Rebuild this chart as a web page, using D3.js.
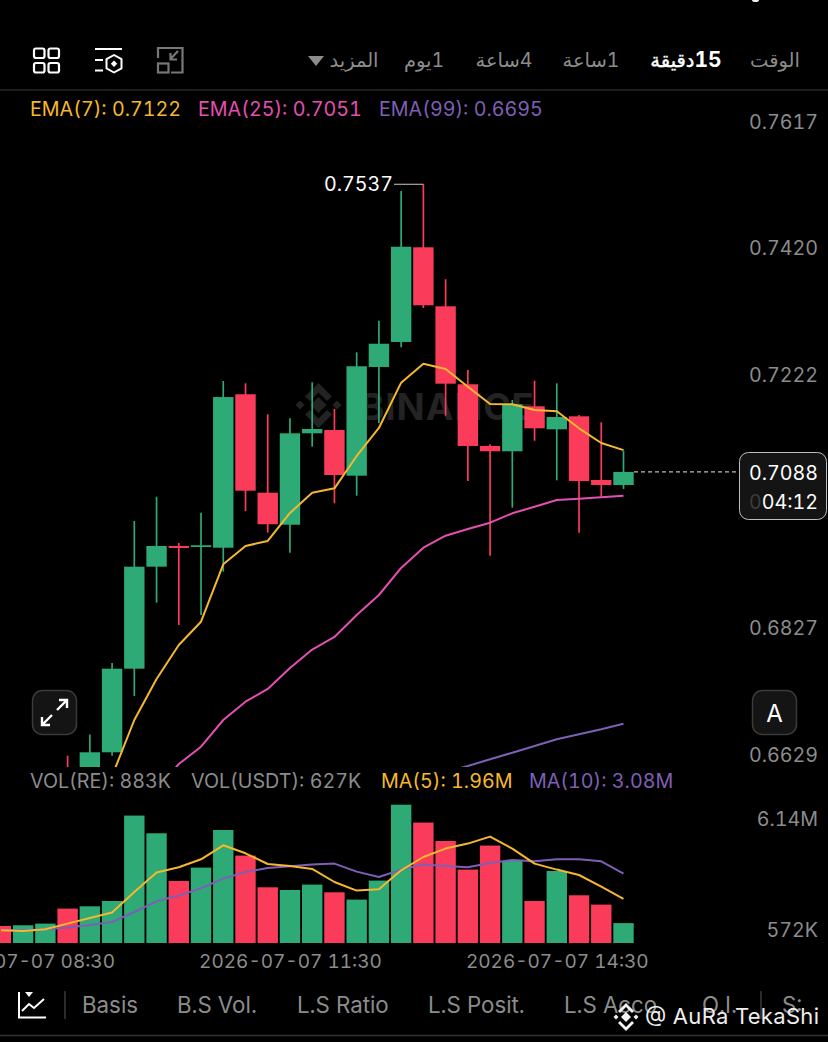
<!DOCTYPE html>
<html>
<head>
<meta charset="utf-8">
<script src="https://cdn.jsdelivr.net/npm/d3@7"></script>
<style>
html, body { margin: 0; padding: 0; background: #000; }
svg { display: block; }
text { font-family: Inter, Roboto, "DejaVu Sans", sans-serif; font-variant-numeric: tabular-nums; }
</style>
</head>
<body>
<div id="chart"></div>
<script>
// 15 minute slots, first one is the cut off volume bar at the left edge
var startTime = new Date(2026, 6, 7, 8, 15);
var slotCount = 29;
var times = d3.range(slotCount).map(function(i){ return d3.timeMinute.offset(startTime, i * 15); });

// candles, the first three slots are below the pane so only the volume is visible
var opens  = [0.66228,0.66150,0.66504,0.67809,0.69401,0.69724,0.69708,0.69697,0.72092,0.70556,0.70056,0.71483,0.71534,0.70821,0.72518,0.72908,0.74386,0.73465,0.72248,0.71285,0.71202,0.71904,0.71545,0.71748,0.70754,0.70676];
var closes = [0.66072,0.66504,0.67809,0.69401,0.69724,0.69693,0.69735,0.72049,0.70587,0.70063,0.71483,0.71550,0.70832,0.72529,0.72881,0.74395,0.73481,0.72257,0.71285,0.71202,0.71936,0.71561,0.71737,0.70738,0.70676,0.7088];
var highs  = [0.66451,0.66782,0.67898,0.70114,0.70493,0.69771,0.70244,0.72299,0.72263,0.71780,0.71717,0.72279,0.71862,0.72747,0.73240,0.75265,0.7537,0.73887,0.72471,0.71311,0.72003,0.72304,0.72263,0.71769,0.71655,0.71211];
var lows   = [0.65994,0.66072,0.66451,0.67383,0.68839,0.68491,0.68647,0.69323,0.70270,0.69932,0.69619,0.71274,0.70390,0.70509,0.71639,0.72825,0.73439,0.71758,0.70738,0.69573,0.70322,0.71367,0.70749,0.69932,0.70493,0.70614];

// moving averages, aligned to the last slots
var ema7  = [0.65759,0.66134,0.67008,0.67648,0.68179,0.68542,0.69438,0.69724,0.69802,0.70239,0.70554,0.70624,0.71129,0.71566,0.72273,0.72569,0.72487,0.72210,0.71940,0.71936,0.71847,0.71826,0.71561,0.71332,0.7122];
var ema25 = [0.65916,0.66321,0.66591,0.67008,0.67294,0.67492,0.67820,0.68108,0.68304,0.68647,0.68959,0.69381,0.69697,0.69885,0.69989,0.70088,0.70234,0.70337,0.70442,0.70462,0.70484,0.7051];
var ema99 = [0.66196,0.66290,0.66395,0.66498,0.66602,0.66707,0.66785,0.66863,0.6695];

// volume in millions
var volumes = [0.755,0.786,0.861,1.527,1.629,1.865,5.657,4.871,2.753,3.348,5.017,3.881,2.473,2.353,2.593,2.251,1.927,2.771,6.14,5.346,4.529,3.259,4.325,3.641,1.865,3.197,2.118,1.705,0.883];
var volFirstSides = ["down","up","up"];
var ma5  = [0.564,0.533,0.608,0.861,1.11,1.35,2.264,3.126,3.361,3.716,4.338,3.983,3.508,3.419,3.286,2.708,2.327,2.384,3.228,3.818,4.191,4.413,4.724,4.191,3.525,3.259,3.019,2.504,1.96];
var ma10 = [0.564,0.564,0.608,0.684,0.799,0.932,1.376,1.851,2.105,2.429,2.859,3.152,3.33,3.405,3.481,3.525,3.17,2.93,3.259,3.481,3.419,3.361,3.552,3.685,3.627,3.716,3.716,3.627,3.08];

var priceTicks = [0.7617,0.7420,0.7222,0.6827,0.6629];
var volTicks = [6.14,0.572];
var volTickLabels = ["6.14M","572K"];
var timeTicks = [new Date(2026,6,7,8,30), new Date(2026,6,7,11,30), new Date(2026,6,7,14,30)];
var intervalLabels = ["الوقت","دقيقة","1ساعة","4ساعة","1يوم","المزيد"];
var intervalX = [775,686,591,504,424,354];
var bottomTabs = ["Basis","B.S Vol.","L.S Ratio","L.S Posit.","L.S Acco","O.I.","S:"];
var bottomTabX = [82,177,297,428,564,702,782];

var green = "#2DAA76", red = "#FA3C5A", grey = "#8C8C8C";
var yellow = "#F5B82E", pink = "#E44FB2", purple = "#7F5FB5";
var labelSize = "19.7px";

var width = 828, height = 1042;

var svg = d3.select("#chart").append("svg")
    .attr("width", width)
    .attr("height", height);

svg.append("rect").attr("width", width).attr("height", height).attr("fill", "#000");

var x = d3.scaleTime()
    .domain([times[0], times[slotCount - 1]])
    .range([0.9, 623.5]);

var y = d3.scaleLinear()
    .domain([0.7617, 0.6629])
    .range([133, 766]);

var yVol = d3.scaleLinear()
    .domain([0, 6.14])
    .range([943, 804.7]);

svg.append("defs").append("clipPath").attr("id", "pane")
    .append("rect").attr("x", 0).attr("y", 92).attr("width", width).attr("height", 675);

// bit of the status bar left at the top edge
svg.append("ellipse").attr("cx", 755.5).attr("cy", 0).attr("rx", 3.5).attr("ry", 2).attr("fill", "#eee");

// header
svg.append("line").attr("x1", 0).attr("x2", width).attr("y1", 90).attr("y2", 90)
    .attr("stroke", "#262626").attr("stroke-width", 1.5);

intervalLabels.forEach(function(t, i){
    var label = svg.append("text")
        .attr("x", intervalX[i]).attr("y", 67)
        .attr("text-anchor", "middle")
        .attr("direction", "rtl")
        .style("font-size", "19.5px")
        .attr("fill", i == 1 ? "#fff" : grey);
    if (i == 1) {
        // selected one, number in bold and word in regular
        label.append("tspan").style("font-weight", "700").style("font-size", "21px").text("15");
        label.append("tspan").attr("stroke", "#fff").attr("stroke-width", 0.4).text(t);
    } else {
        label.text(t);
    }
});
svg.append("path").attr("d", "M308,56 L324,56 L316,66 Z").attr("fill", grey);

// icons
[[34,48.5],[48.5,48.5],[34,63],[48.5,63]].forEach(function(p){
    svg.append("rect").attr("x", p[0]).attr("y", p[1]).attr("width", 10.5).attr("height", 9.5).attr("rx", 2)
        .attr("fill", "none").attr("stroke", "#fff").attr("stroke-width", 2.2);
});
var ic2 = svg.append("g").attr("fill", "none").attr("stroke", "#fff").attr("stroke-width", 2).attr("stroke-linejoin", "round");
ic2.append("path").attr("d", "M95,49 H122 M95,60 H103 M95,70.5 H103");
ic2.append("path").attr("d", "M114,55 L121.5,59.2 V68.3 L114,72.5 L106.5,68.3 V59.2 Z");
svg.append("path").attr("d", "M114,60.5 L117.2,63.8 L114,67 L110.8,63.8 Z").attr("fill", "#fff");
var ic3 = svg.append("g").attr("fill", "none").attr("stroke", "#777").attr("stroke-width", 2.2);
ic3.append("path").attr("d", "M158,58 V48 H182.5 V72.5 H171");
ic3.append("rect").attr("x", 158).attr("y", 63.5).attr("width", 10.5).attr("height", 9);
ic3.append("path").attr("d", "M178,51 L170,59.5 M170.5,53 V59.5 H177");

// legend
var legend = svg.append("text").attr("x", 30).attr("y", 116).style("font-size", labelSize);
legend.append("tspan").attr("fill", yellow).text("EMA(7): 0.7122");
legend.append("tspan").attr("fill", pink).attr("x", 198).text("EMA(25): 0.7051");
legend.append("tspan").attr("fill", purple).attr("x", 379).text("EMA(99): 0.6695");

// watermark
var wm = svg.append("g").attr("fill", "#232323");
[[318.5,405,8],[300,405,4.5],[337,405,4.5]].forEach(function(d){
    wm.append("path").attr("d", "M" + (d[0]-d[2]) + "," + d[1] + " L" + d[0] + "," + (d[1]-d[2]) + " L" + (d[0]+d[2]) + "," + d[1] + " L" + d[0] + "," + (d[1]+d[2]) + " Z");
});
wm.append("path").attr("d", "M318.5,383 L332,396.5 L327,401 L318.5,392.5 L310,401 L305,396.5 Z");
wm.append("path").attr("d", "M318.5,428 L332,414.5 L327,410 L318.5,418.5 L310,410 L305,414.5 Z");
wm.append("text").attr("x", 360).attr("y", 420).style("font-size", "37px").style("font-weight", "700")
    .attr("textLength", 174).text("BINANCE");

// candles
var candleData = opens.map(function(o, i){
    return {time: times[i + 3], open: o, close: closes[i], high: highs[i], low: lows[i]};
});

var pane = svg.append("g").attr("clip-path", "url(#pane)");

pane.selectAll(".wick").data(candleData).enter().append("line")
    .attr("class", "wick")
    .attr("x1", function(d){ return x(d.time); })
    .attr("x2", function(d){ return x(d.time); })
    .attr("y1", function(d){ return y(d.high); })
    .attr("y2", function(d){ return y(d.low); })
    .attr("stroke", function(d){ return d.close >= d.open ? green : red; })
    .attr("stroke-width", 1.7);

pane.selectAll(".body").data(candleData).enter().append("rect")
    .attr("class", "body")
    .attr("x", function(d){ return x(d.time) - 10.2; })
    .attr("width", 20.4)
    .attr("y", function(d){ return y(Math.max(d.open, d.close)); })
    .attr("height", function(d){ return Math.max(1.5, Math.abs(y(d.open) - y(d.close))); })
    .attr("fill", function(d){ return d.close >= d.open ? green : red; });

function drawLine(parent, values, yScale, color){
    var offset = slotCount - values.length;
    var line = d3.line()
        .x(function(d, i){ return x(times[i + offset]); })
        .y(function(d){ return yScale(d); });
    parent.append("path")
        .datum(values)
        .attr("fill", "none")
        .attr("stroke", color)
        .attr("stroke-width", 2)
        .attr("stroke-linejoin", "round")
        .attr("d", line);
}

drawLine(pane, ema99, y, purple);
drawLine(pane, ema25, y, pink);
drawLine(pane, ema7, y, yellow);

// high marker
svg.append("line").attr("x1", 394).attr("x2", x(times[19])).attr("y1", y(0.7537)).attr("y2", y(0.7537))
    .attr("stroke", "#ccc").attr("stroke-width", 1);
svg.append("text").attr("x", 393).attr("y", y(0.7537) + 7).attr("text-anchor", "end")
    .style("font-size", labelSize).attr("fill", "#fff").text("0.7537");

// price axis, labels sit above their level
var yAxis = d3.axisRight(y).tickValues(priceTicks).tickSize(0).tickFormat(d3.format(".4f"));
var yAxisG = svg.append("g").attr("transform", "translate(818,0)").call(yAxis);
yAxisG.select(".domain").remove();
yAxisG.selectAll("text").attr("x", 0).attr("dy", "-5px").attr("text-anchor", "end")
    .attr("fill", grey).style("font-size", labelSize).style("font-family", "Inter, Roboto, sans-serif");

// last price
svg.append("line").attr("x1", 634).attr("x2", 739).attr("y1", y(0.7088)).attr("y2", y(0.7088))
    .attr("stroke", "#bbb").attr("stroke-width", 1.2).attr("stroke-dasharray", "4,3");
svg.append("rect").attr("x", 739.5).attr("y", 452.5).attr("width", 87).attr("height", 67).attr("rx", 9)
    .attr("fill", "#141414").attr("stroke", "#bdbdbd").attr("stroke-width", 1);
svg.append("text").attr("x", 818).attr("y", 480).attr("text-anchor", "end")
    .style("font-size", labelSize).attr("fill", "#fff").text("0.7088");
svg.append("text").attr("x", 749).attr("y", 509)
    .style("font-size", labelSize).attr("fill", "#3c3c3c").text("0");
svg.append("text").attr("x", 818).attr("y", 509).attr("text-anchor", "end")
    .style("font-size", labelSize).attr("fill", "#fff").text("04:12");

// floating buttons
svg.append("rect").attr("x", 32.5).attr("y", 690.5).attr("width", 44).attr("height", 44).attr("rx", 10)
    .attr("fill", "#141414").attr("stroke", "#3a3a3a").attr("stroke-width", 1.5);
svg.append("path")
    .attr("d", "M42,725 L52,715 M42,717 V725 H50 M57,710 L67,700 M59,700 H67 V708")
    .attr("fill", "none").attr("stroke", "#fff").attr("stroke-width", 2.4);
svg.append("rect").attr("x", 752.5).attr("y", 690.5).attr("width", 44).attr("height", 44).attr("rx", 10)
    .attr("fill", "#141414").attr("stroke", "#3a3a3a").attr("stroke-width", 1.5);
svg.append("text").attr("x", 774.5).attr("y", 722).attr("text-anchor", "middle")
    .style("font-size", "24px").attr("fill", "#fff").text("A");

// volume legend
var volLegend = svg.append("text").attr("x", 30).attr("y", 788).style("font-size", labelSize);
volLegend.append("tspan").attr("fill", grey).text("VOL(RE): 883K");
volLegend.append("tspan").attr("fill", grey).attr("x", 191).text("VOL(USDT): 627K");
volLegend.append("tspan").attr("fill", yellow).attr("x", 381).text("MA(5): 1.96M");
volLegend.append("tspan").attr("fill", purple).attr("x", 529).text("MA(10): 3.08M");

// volume bars
svg.selectAll(".vol").data(volumes).enter().append("rect")
    .attr("class", "vol")
    .attr("x", function(d, i){ return x(times[i]) - 10.2; })
    .attr("width", 20.4)
    .attr("y", function(d){ return yVol(d); })
    .attr("height", function(d){ return yVol(0) - yVol(d); })
    .attr("fill", function(d, i){
        if (i < 3) return volFirstSides[i] == "up" ? green : red;
        return closes[i - 3] >= opens[i - 3] ? green : red;
    });

drawLine(svg, ma10, yVol, purple);
drawLine(svg, ma5, yVol, yellow);

var volAxis = d3.axisRight(yVol).tickValues(volTicks).tickSize(0)
    .tickFormat(function(d, i){ return volTickLabels[i]; });
var volAxisG = svg.append("g").attr("transform", "translate(818,0)").call(volAxis);
volAxisG.select(".domain").remove();
// top label is pushed down inside the panel
volAxisG.selectAll("text").attr("x", 0).attr("text-anchor", "end")
    .attr("dy", function(d, i){ return i == 0 ? "1.07em" : "0.32em"; })
    .attr("fill", grey).style("font-size", labelSize).style("font-family", "Inter, Roboto, sans-serif");

// time axis
var xAxis = d3.axisBottom(x).tickValues(timeTicks).tickSize(0)
    .tickFormat(d3.timeFormat("%Y-%m-%d %H:%M"));
var xAxisG = svg.append("g").attr("transform", "translate(0,950)").call(xAxis);
xAxisG.select(".domain").remove();
xAxisG.selectAll("text").attr("y", 0).attr("dy", "18px")
    .attr("fill", grey).style("font-size", "19px").style("font-family", "Inter, Roboto, sans-serif");

// bottom tabs
bottomTabs.forEach(function(t, i){
    svg.append("text").attr("x", bottomTabX[i]).attr("y", 1013)
        .style("font-size", "22.3px").attr("fill", grey).text(t);
});
svg.append("line").attr("x1", 65).attr("x2", 65).attr("y1", 991).attr("y2", 1019).attr("stroke", "#3a3a3a").attr("stroke-width", 1.5);
svg.append("line").attr("x1", 761).attr("x2", 761).attr("y1", 991).attr("y2", 1019).attr("stroke", "#3a3a3a").attr("stroke-width", 1.5);
svg.append("line").attr("x1", 0).attr("x2", width).attr("y1", 1035.5).attr("y2", 1035.5).attr("stroke", "#333").attr("stroke-width", 1.5);
svg.append("path").attr("d", "M19,992 V1017.5 H46 M22,1011 L29,1004 L34,1008 L44,999")
    .attr("fill", "none").attr("stroke", "#fff").attr("stroke-width", 2);
svg.append("path").attr("d", "M25,992 H33 L29,997 Z").attr("fill", "#fff");

// repost mark over the tabs
var mark = svg.append("g").attr("fill", "#f2f2f2");
[[626,1017,5],[616,1017,2.5],[636,1017,2.5]].forEach(function(d){
    mark.append("path").attr("d", "M" + (d[0]-d[2]) + "," + d[1] + " L" + d[0] + "," + (d[1]-d[2]) + " L" + (d[0]+d[2]) + "," + d[1] + " L" + d[0] + "," + (d[1]+d[2]) + " Z");
});
mark.append("path").attr("d", "M626,1003 L634,1011 L632,1013 L626,1007 L620,1013 L618,1011 Z");
mark.append("path").attr("d", "M626,1031 L634,1023 L632,1021 L626,1027 L620,1021 L618,1023 Z");
svg.append("text").attr("x", 645).attr("y", 1024)
    .style("font-size", "22px").attr("fill", "#eee").attr("textLength", 174).text("@ AuRa TekaShi");
</script>
</body>
</html>
